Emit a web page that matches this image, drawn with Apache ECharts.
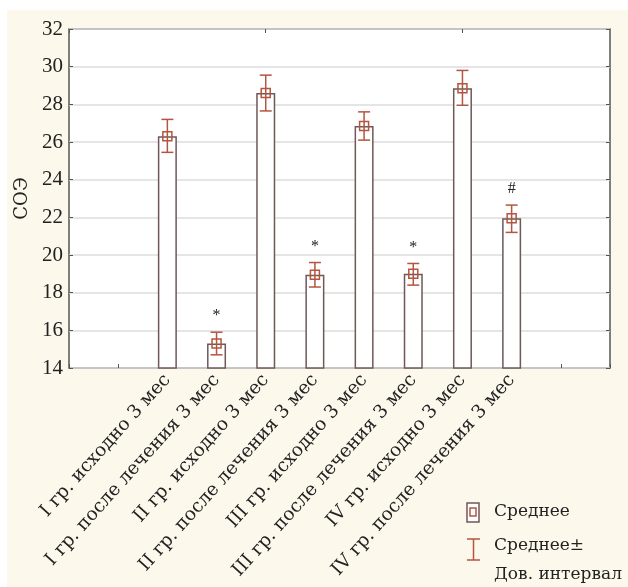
<!DOCTYPE html>
<html>
<head>
<meta charset="utf-8">
<script src="https://cdn.jsdelivr.net/npm/echarts@6/dist/echarts.min.js"></script>
<style>
  html, body { margin: 0; padding: 0; background: #ffffff; }
  #chart { width: 628px; height: 587px; }
</style>
</head>
<body>
<div id="chart"></div>
<script>
  // data
  var categories = [
    'I гр. исходно 3 мес', 'I гр. после лечения 3 мес',
    'II гр. исходно 3 мес', 'II гр. после лечения 3 мес',
    'III гр. исходно 3 мес', 'III гр. после лечения 3 мес',
    'IV гр. исходно 3 мес', 'IV гр. после лечения 3 мес'
  ];
  var means = [26.3, 15.3, 28.6, 18.95, 26.85, 19.0, 28.85, 21.95];
  var ciLow = [25.45, 14.7, 27.65, 18.3, 26.1, 18.4, 27.95, 21.2];
  var ciHigh = [27.2, 15.9, 29.55, 19.6, 27.6, 19.55, 29.8, 22.65];
  var signs = ['', '*', '', '*', '', '*', '', '#'];
  var yTicks = [14, 16, 18, 20, 22, 24, 26, 28, 30, 32];

  var serif = '"Liberation Serif", "DejaVu Serif", serif';
  var wide = '"DejaVu Serif", serif';
  var errColor = '#b4553f';
  var barLine = '#6e5858';

  // two empty slots on each side, like the original axis
  var xData = ['', ''].concat(categories, ['', '']);
  var barData = xData.map(function () { return '-'; });
  var errData = [];
  for (var i = 0; i < categories.length; i++) {
    barData[i + 2] = means[i];
    errData.push([i + 2, means[i], ciLow[i], ciHigh[i], signs[i]]);
  }

  var txt = { fontFamily: wide, fontSize: 17, fill: '#222' };
  var chart = echarts.init(document.getElementById('chart'));
  var option = {
    animation: false,
    backgroundColor: '#ffffff',
    graphic: [
      { type: 'rect', z: -10, shape: { x: 7, y: 10, width: 621, height: 577 }, style: { fill: '#fdf8ec' } },
      // legend
      { type: 'rect', shape: { x: 467, y: 503, width: 12, height: 19 }, style: { fill: '#fff', stroke: barLine, lineWidth: 1.5 } },
      { type: 'rect', shape: { x: 470, y: 508, width: 6, height: 8 }, style: { fill: 'none', stroke: errColor, lineWidth: 1.5 } },
      { type: 'text', left: 494, top: 503, style: Object.assign({ text: 'Среднее' }, txt) },
      { type: 'polyline', shape: { points: [[467, 539], [480, 539]] }, style: { stroke: errColor, lineWidth: 1.5 } },
      { type: 'polyline', shape: { points: [[473.5, 539], [473.5, 560]] }, style: { stroke: errColor, lineWidth: 1.5 } },
      { type: 'polyline', shape: { points: [[467, 560], [480, 560]] }, style: { stroke: errColor, lineWidth: 1.5 } },
      { type: 'text', left: 494, top: 537, style: Object.assign({ text: 'Среднее±' }, txt) },
      { type: 'text', left: 494, top: 566, style: Object.assign({ text: 'Дов. интервал' }, txt) }
    ],
    grid: {
      left: 69, top: 29, right: 18, bottom: 219,
      show: true, backgroundColor: '#ffffff', borderColor: '#555', borderWidth: 1.5
    },
    xAxis: [{
      type: 'category',
      data: xData,
      boundaryGap: false,
      axisLine: { show: false },
      axisTick: { inside: true, length: 4, lineStyle: { color: '#555' } },
      axisLabel: { rotate: 48, interval: 0, margin: 9, fontSize: 18.5, fontFamily: wide, color: '#222' },
      splitLine: { show: false }
    }, {
      type: 'category',
      data: xData,
      position: 'top',
      boundaryGap: false,
      axisLine: { show: false },
      axisTick: { inside: true, length: 4, lineStyle: { color: '#555' } },
      axisLabel: { show: false }
    }],
    yAxis: [{
      type: 'value',
      min: 14, max: 32, interval: 2,
      name: 'СОЭ',
      nameLocation: 'middle',
      nameRotate: 90,
      nameGap: 33,
      nameTextStyle: { fontSize: 18, fontFamily: wide, color: '#222' },
      axisLine: { show: false },
      axisTick: { show: true, inside: true, length: 4, lineStyle: { color: '#555' } },
      axisLabel: { fontSize: 21, fontFamily: serif, color: '#222', margin: 6,
        formatter: function (v) { return yTicks.indexOf(v) >= 0 ? String(v) : ''; } },
      splitLine: { lineStyle: { color: '#dcdcdc', width: 1.5 } }
    }, {
      type: 'value',
      min: 14, max: 32, interval: 2,
      position: 'right',
      axisLine: { show: false },
      axisTick: { show: true, inside: true, length: 4, lineStyle: { color: '#555' } },
      axisLabel: { show: false },
      splitLine: { show: false }
    }],
    series: [{
      type: 'bar',
      data: barData,
      barWidth: 19,
      itemStyle: { color: '#ffffff', borderColor: barLine, borderWidth: 1.5 }
    }, {
      type: 'custom',
      data: errData,
      z: 5,
      renderItem: function (params, api) {
        var x = api.value(0);
        var m = api.coord([x, api.value(1)]);
        var lo = api.coord([x, api.value(2)]);
        var hi = api.coord([x, api.value(3)]);
        var cap = 6;
        var st = { stroke: errColor, lineWidth: 1.5, fill: 'none' };
        var kids = [
          { type: 'line', shape: { x1: hi[0], y1: hi[1], x2: lo[0], y2: lo[1] }, style: st },
          { type: 'line', shape: { x1: hi[0] - cap, y1: hi[1], x2: hi[0] + cap, y2: hi[1] }, style: st },
          { type: 'line', shape: { x1: lo[0] - cap, y1: lo[1], x2: lo[0] + cap, y2: lo[1] }, style: st },
          { type: 'rect', shape: { x: m[0] - 4.5, y: m[1] - 4.5, width: 9, height: 9 }, style: st }
        ];
        var s = api.value(4);
        if (s) {
          kids.push({ type: 'text', x: hi[0], y: hi[1] - 16,
            style: { text: s, fontFamily: serif, fontSize: 16, fill: '#222', align: 'center', verticalAlign: 'middle' } });
        }
        return { type: 'group', children: kids };
      }
    }]
  };
  chart.setOption(option);
</script>
</body>
</html>
